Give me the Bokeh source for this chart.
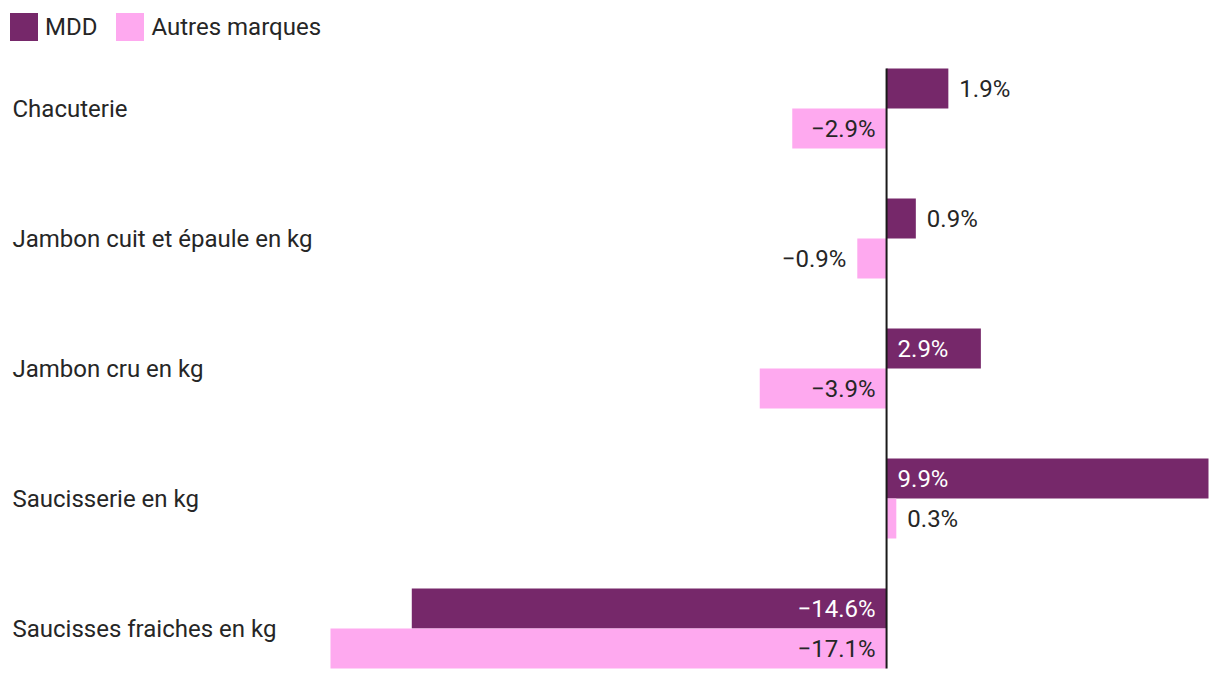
from bokeh.plotting import figure
from bokeh.models import ColumnDataSource, Range1d, Legend, LegendItem
from bokeh.core.properties import value
from bokeh.embed import file_html
from bokeh.resources import INLINE

categories = ["Chacuterie", "Jambon cuit et épaule en kg", "Jambon cru en kg",
              "Saucisserie en kg", "Saucisses fraiches en kg"]
mdd = [1.9, 0.9, 2.9, 9.9, -14.6]
autres = [-2.9, -0.9, -3.9, 0.3, -17.1]
series_names = ["MDD", "Autres marques"]

C_MDD = "#76286A"
C_AUT = "#FEA9EF"
TXT = "#262626"
FONT = "Roboto"
FS = "24px"

W, H = 1220, 680
# pixel geometry
px_per = 32.52
x_start = -17.1 - 330 / px_per
x_end = 9.9 + 12 / px_per
row_px = 130.0
y_top = -108 / row_px
y_bot = 4 + (H - 628) / row_px
bh = 40 / row_px

p = figure(width=W, height=H, output_backend="svg", toolbar_location=None,
           x_range=Range1d(x_start, x_end), y_range=Range1d(y_bot, y_top),
           x_axis_location=None, y_axis_location=None,
           min_border=0, min_border_left=0, min_border_right=0,
           min_border_top=0, min_border_bottom=0)
p.outline_line_color = None
p.xgrid.visible = False
p.ygrid.visible = False
p.background_fill_color = "white"
p.border_fill_color = "white"

idx = list(range(len(categories)))
src_m = ColumnDataSource(dict(y=[i - bh / 2 for i in idx], v=mdd))
src_a = ColumnDataSource(dict(y=[i + bh / 2 for i in idx], v=autres))
r_m = p.hbar(y="y", left=0, right="v", height=bh, source=src_m,
             fill_color=C_MDD, line_color=None)
r_a = p.hbar(y="y", left=0, right="v", height=bh, source=src_a,
             fill_color=C_AUT, line_color=None)

# zero line across the bars only
p.segment(x0=[0], x1=[0], y0=[-bh], y1=[len(categories) - 1 + bh],
          line_color="#1a1a1a", line_width=2)

def label_source(vals, ys, inside_color):
    xs, offs, aligns, cols, txts = [], [], [], [], []
    for v in vals:
        inside = abs(v) >= 2.5
        xs.append(0 if inside else v)
        offs.append(11 if v >= 0 else -11)
        aligns.append("left" if v >= 0 else "right")
        cols.append(inside_color if inside else TXT)
        txts.append(("%.1f%%" % v).replace("-", "\u2212"))
    return ColumnDataSource(dict(x=xs, y=ys, off=offs, align=aligns, col=cols, t=txts))

lm = label_source(mdd, [i - bh / 2 for i in idx], "white")
la = label_source(autres, [i + bh / 2 for i in idx], TXT)
for s in (lm, la):
    p.text(x="x", y="y", text="t", x_offset="off", text_align="align",
           text_color="col", text_baseline="middle", text_font=value(FONT),
           text_font_size=FS, source=s)

# category labels
cat_src = ColumnDataSource(dict(x=[x_start] * len(categories), y=idx, t=categories))
p.text(x="x", y="y", text="t", x_offset=12, text_align="left",
       text_baseline="middle", text_color=TXT, text_font=value(FONT),
       text_font_size=FS, source=cat_src)

legend = Legend(items=[LegendItem(label=series_names[0], renderers=[r_m]),
                       LegendItem(label=series_names[1], renderers=[r_a])],
                location=(6, 636), orientation="horizontal",
                margin=0, padding=0, spacing=15,
                glyph_width=35, glyph_height=35, label_height=28,
                label_standoff=4,
                label_text_font=FONT, label_text_font_size=FS,
                label_text_color=TXT, border_line_color=None,
                background_fill_alpha=0)
p.add_layout(legend, "center")

open("out.html", "w").write(file_html(p, INLINE))
